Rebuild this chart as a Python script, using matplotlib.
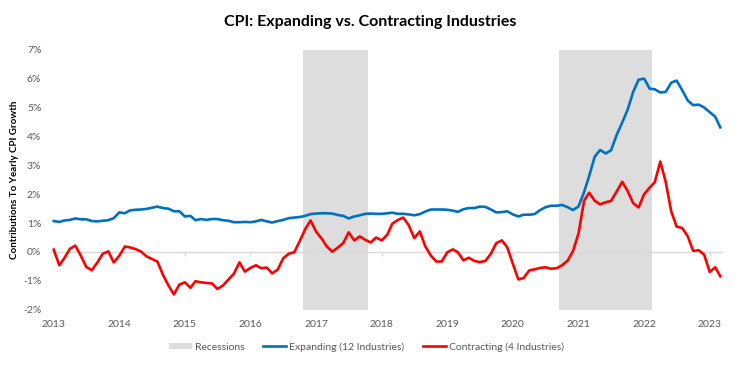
import pandas as pd
import matplotlib
matplotlib.use("Agg")
import matplotlib.pyplot as plt
from matplotlib.patches import Patch
from matplotlib.lines import Line2D
from matplotlib.ticker import FuncFormatter

# Monthly contributions to yearly CPI growth (%), Jan 2013 - Mar 2023
START_MONTH = "2013-01-01"

expanding = [
    1.07, 1.04, 1.09, 1.11, 1.16, 1.13, 1.13, 1.07, 1.06, 1.08, 1.10, 1.17, 1.37,
    1.34, 1.44, 1.46, 1.47, 1.49, 1.53, 1.57, 1.52, 1.50, 1.41, 1.41, 1.23,
    1.25, 1.10, 1.14, 1.11, 1.14, 1.14, 1.10, 1.08, 1.03, 1.03, 1.04, 1.03,
    1.06, 1.11, 1.06, 1.02, 1.07, 1.11, 1.17, 1.19, 1.21, 1.25, 1.31, 1.33,
    1.34, 1.34, 1.33, 1.28, 1.25, 1.16, 1.23, 1.27, 1.32, 1.33, 1.32, 1.32,
    1.34, 1.36, 1.32, 1.32, 1.30, 1.27, 1.31, 1.40, 1.47, 1.47, 1.47, 1.46,
    1.43, 1.39, 1.48, 1.52, 1.52, 1.57, 1.56, 1.47, 1.37, 1.38, 1.41, 1.30,
    1.23, 1.29, 1.29, 1.31, 1.45, 1.55, 1.60, 1.60, 1.63, 1.55, 1.45, 1.58,
    2.08, 2.63, 3.30, 3.53, 3.41, 3.52, 4.05, 4.48, 4.92, 5.54, 5.96, 6.00,
    5.65, 5.63, 5.52, 5.54, 5.86, 5.93, 5.60, 5.24, 5.08, 5.10, 5.00, 4.84, 4.68, 4.31,
]

contracting = [
    0.08, -0.46, -0.21, 0.11, 0.22, -0.13, -0.52, -0.63, -0.36, -0.06, 0.02, -0.36, -0.13,
    0.19, 0.16, 0.10, 0.02, -0.15, -0.24, -0.33, -0.79, -1.15, -1.47, -1.13, -1.05,
    -1.24, -1.01, -1.05, -1.07, -1.09, -1.28, -1.16, -0.95, -0.75, -0.36, -0.68, -0.55,
    -0.46, -0.56, -0.54, -0.74, -0.61, -0.22, -0.06, -0.01, 0.37, 0.79, 1.09, 0.70,
    0.46, 0.19, 0.01, 0.15, 0.31, 0.68, 0.40, 0.54, 0.42, 0.33, 0.50, 0.40,
    0.60, 0.98, 1.11, 1.19, 0.92, 0.48, 0.71, 0.19, -0.12, -0.33, -0.33, -0.01,
    0.09, -0.01, -0.29, -0.20, -0.31, -0.35, -0.31, -0.06, 0.31, 0.40, 0.16, -0.41,
    -0.95, -0.90, -0.64, -0.60, -0.55, -0.53, -0.58, -0.56, -0.46, -0.30, 0.03, 0.65,
    1.78, 2.05, 1.77, 1.65, 1.72, 1.77, 2.09, 2.43, 2.11, 1.69, 1.54, 2.00,
    2.23, 2.41, 3.13, 2.43, 1.40, 0.88, 0.83, 0.54, 0.04, 0.06, -0.09, -0.69, -0.53, -0.84,
]

# first and last month of each shaded period
recessions = [("2016-11-01", "2017-10-01"), ("2020-10-01", "2022-02-01")]

year_ticks = list(range(2013, 2024))
y_ticks = list(range(-2, 8))

BLUE = "#0070C0"
RED = "#FF0000"
SHADE = "#DDDDDD"
GREY_TEXT = "#595959"
FONT = "Lato"

plt.rcParams["font.family"] = [FONT, "DejaVu Sans"]

months = pd.date_range(START_MONTH, periods=len(expanding), freq="MS")
half_month = pd.Timedelta(days=15)

fig = plt.figure(figsize=(7.4, 3.66), dpi=100)
ax = fig.add_axes([0.069, 0.1536, 0.908, 0.7106])

# recession bars
for start, end in recessions:
    ax.axvspan(pd.Timestamp(start) - half_month, pd.Timestamp(end) + half_month,
               color=SHADE, lw=0, zorder=0)

# zero line with small year tick marks
year_dates = [pd.Timestamp(f"{y}-01-01") for y in year_ticks]
ax.axhline(0, color="#D9D9D9", lw=1, zorder=1)
ax.vlines(year_dates, -0.13, 0, color="#D9D9D9", lw=1, zorder=1)

ax.plot(months, expanding, color=BLUE, lw=1.9, zorder=3)
ax.plot(months, contracting, color=RED, lw=1.9, zorder=3)

# axes styling
ax.set_xlim(months[0] - half_month, months[-1] + half_month)
ax.set_ylim(y_ticks[0], y_ticks[-1])
ax.set_yticks(y_ticks)
ax.yaxis.set_major_formatter(FuncFormatter(lambda v, _: f"{v:.0f}%"))
ax.set_xticks(year_dates)
ax.set_xticklabels([str(y) for y in year_ticks])
ax.tick_params(axis="y", length=0, colors=GREY_TEXT, labelsize=7.5, pad=7)
ax.tick_params(axis="x", length=0, colors=GREY_TEXT, labelsize=7.5, pad=7)
for spine in ax.spines.values():
    spine.set_visible(False)

fig.text(0.5, 0.94, "CPI: Expanding vs. Contracting Industries",
         ha="center", va="center", fontsize=11.5, weight="bold", color="black")
fig.text(0.02, 0.508, "Contributions To Yearly CPI Growth", rotation=90,
         ha="center", va="center", fontsize=7, weight="bold", color="black")

handles = [
    Patch(facecolor=SHADE, edgecolor="none"),
    Line2D([0], [0], color=BLUE, lw=1.9),
    Line2D([0], [0], color=RED, lw=1.9),
]
labels = ["Recessions", "Expanding (12 Industries)", "Contracting (4 Industries)"]
fig.legend(handles, labels, loc="center", bbox_to_anchor=(0.495, 0.052), ncol=3,
           frameon=False, fontsize=7.5, labelcolor=GREY_TEXT, handlelength=2.2,
           handleheight=0.5, handletextpad=0.3, columnspacing=1.8)

fig.savefig("out.png", dpi=100)
plt.close(fig)
